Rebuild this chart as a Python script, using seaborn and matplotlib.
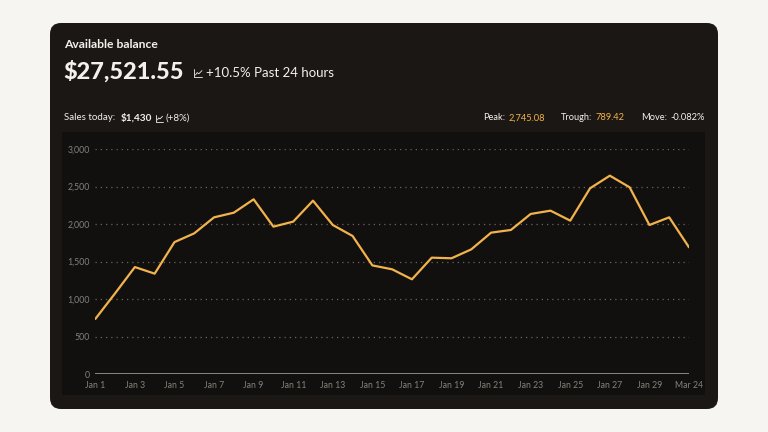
import matplotlib
matplotlib.use("Agg")
import matplotlib.pyplot as plt
import seaborn as sns
from matplotlib.patches import FancyBboxPatch, Rectangle
from matplotlib.lines import Line2D

# daily balance values
days = list(range(31))
day_labels = ["Jan %d" % (i + 1) for i in range(30)] + ["Mar 24"]
balance = [737, 1078, 1428, 1340, 1760, 1877, 2090, 2152, 2330, 1966,
           2033, 2312, 1988, 1842, 1450, 1398, 1265, 1553, 1545, 1664,
           1886, 1922, 2135, 2179, 2046, 2477, 2645, 2490, 1988, 2090,
           1691]
y_ticks = [0, 500, 1000, 1500, 2000, 2500, 3000]

BG = "#f7f5f1"
CARD = "#1b1714"
PANEL = "#12100e"
LINE = "#f2b24c"
MUTED = "#86807a"
WHITE = "#f4f1ec"

sns.set_theme(style="dark")
plt.rcParams["font.family"] = ["Lato", "DejaVu Sans"]

W, H = 768, 432
fig = plt.figure(figsize=(7.68, 4.32), dpi=100)
fig.patch.set_facecolor(BG)


def fx(x):
    return x / W


def fy(y):
    return 1 - y / H


# card + inner panel, in inches
card = FancyBboxPatch((0.50, 0.23), 6.68, 3.86,
                      boxstyle="round,pad=0,rounding_size=0.11",
                      transform=fig.dpi_scale_trans, facecolor=CARD,
                      edgecolor="none", zorder=0)
fig.add_artist(card)
panel = Rectangle((0.62, 0.37), 6.43, 2.63, transform=fig.dpi_scale_trans,
                  facecolor=PANEL, edgecolor="none", zorder=0)
fig.add_artist(panel)

ax = fig.add_axes([fx(95.3), fy(374.3), fx(689) - fx(95.3), fy(149) - fy(374.3)])
ax.set_facecolor("none")

sns.lineplot(x=days, y=balance, ax=ax, color=LINE, linewidth=1.6)

ax.set_xlim(0, 30)
ax.set_ylim(0, 3000)
ax.set_yticks(y_ticks)
ax.set_yticklabels(["{:,}".format(v) for v in y_ticks])
ax.set_xticks(days[::2])
ax.set_xticklabels(day_labels[::2])
ax.tick_params(axis="both", colors=MUTED, labelsize=6.3, length=0, pad=4)
ax.tick_params(axis="x", pad=4.5)
ax.grid(False)
for v in y_ticks[1:]:
    ax.axhline(v, color="#6a645e", linewidth=0.9, linestyle=(0, (1, 3.2)), zorder=0)
ax.axhline(0, color="#8a857f", linewidth=1.4, zorder=1)
for s in ax.spines.values():
    s.set_visible(False)
ax.set_xlabel("")
ax.set_ylabel("")

# header texts
fig.text(fx(64), fy(44), "Available balance", color=WHITE, fontsize=8.7,
         fontweight="bold", va="center", ha="left")
fig.text(fx(63), fy(71), "$27,521.55", color=WHITE, fontsize=16.9,
         fontweight=900, va="center", ha="left")
fig.text(fx(206), fy(73), "+10.5% Past 24 hours", color=WHITE, fontsize=9.5,
         va="center", ha="left")

fig.text(fx(64), fy(118), "Sales today:", color=WHITE, fontsize=7,
         va="center", ha="left")
fig.text(fx(121), fy(118), "$1,430", color=WHITE, fontsize=7.2,
         fontweight="bold", va="center", ha="left")
fig.text(fx(166), fy(118), "(+8%)", color=WHITE, fontsize=7,
         va="center", ha="left")


def chart_icon(x, y, s):
    # tiny trend glyph drawn in pixel space
    xs = [x, x, x + s]
    ys = [y - s, y, y]
    fig.add_artist(Line2D([fx(v) for v in xs], [fy(v) for v in ys],
                          color=WHITE, linewidth=0.6))
    zx = [x + 1.5, x + s * 0.4, x + s * 0.6, x + s]
    zy = [y - s * 0.25, y - s * 0.55, y - s * 0.4, y - s * 0.8]
    fig.add_artist(Line2D([fx(v) for v in zx], [fy(v) for v in zy],
                          color=WHITE, linewidth=0.6))


chart_icon(194, 77, 8)
chart_icon(156, 121.5, 6.5)

# right-side stats
stats = [(483, "Peak:", "2,745.08"), (561, "Trough:", "789.42"), (641, "Move:", "-0.082%")]
for x0, lab, val in stats:
    t = fig.text(fx(x0), fy(118), lab, color=WHITE, fontsize=6.7,
                 va="center", ha="left")
    fig.canvas.draw()
    bb = t.get_window_extent()
    col = WHITE if lab == "Move:" else LINE
    fig.text(fx(bb.x1 + 3), fy(118), val, color=col, fontsize=6.7,
             va="center", ha="left")

fig.savefig("out.png", dpi=100, facecolor=BG)
